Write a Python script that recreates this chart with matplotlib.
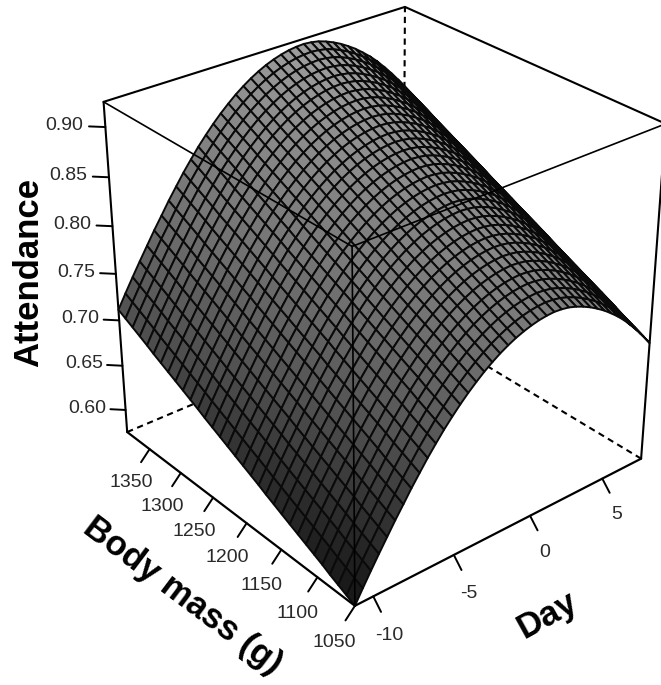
import numpy as np
import matplotlib
matplotlib.use("Agg")
import matplotlib.pyplot as plt
from matplotlib.collections import PolyCollection

plt.rcParams['font.family'] = ['Liberation Sans', 'DejaVu Sans']

# surface grid
day_grid = [-11.1, -10.62, -10.13, -9.65, -9.16, -8.68, -8.19, -7.71, -7.22, -6.74,
            -6.25, -5.77, -5.28, -4.80, -4.32, -3.83, -3.35, -2.86, -2.38, -1.89,
            -1.41, -0.92, -0.44, 0.05, 0.53, 1.02, 1.50, 1.98, 2.47, 2.95,
            3.44, 3.92, 4.41, 4.89, 5.38, 5.86, 6.35, 6.83, 7.32, 7.80]
mass_grid = [1050, 1061, 1072, 1083, 1093, 1104, 1115, 1126, 1137, 1148, 1159,
             1170, 1180, 1191, 1202, 1213, 1224, 1235, 1246, 1257, 1267,
             1278, 1289, 1300, 1311, 1322, 1333, 1343, 1354, 1365, 1376, 1387]
# attendance along the day edge at the lowest mass
attendance_by_day = [0.5746, 0.5891, 0.6034, 0.6170, 0.6305, 0.6437, 0.6563, 0.6689, 0.6808, 0.6923,
                     0.7031, 0.7133, 0.7227, 0.7314, 0.7394, 0.7468, 0.7535, 0.7595, 0.7648, 0.7694,
                     0.7733, 0.7765, 0.7790, 0.7809, 0.7820, 0.7825, 0.7818, 0.7804, 0.7778, 0.7745,
                     0.7705, 0.7658, 0.7605, 0.7544, 0.7477, 0.7403, 0.7317, 0.7228, 0.7131, 0.7027]
# rise in attendance going up the mass edge
attendance_gain = [0.0, 0.0044, 0.0088, 0.0132, 0.0177, 0.0221, 0.0265, 0.0309, 0.0353, 0.0397, 0.0442,
                   0.0486, 0.0530, 0.0574, 0.0618, 0.0662, 0.0707, 0.0751, 0.0795, 0.0839, 0.0883,
                   0.0927, 0.0972, 0.1016, 0.1060, 0.1104, 0.1148, 0.1192, 0.1237, 0.1281, 0.1325, 0.1369]

mass_ticks = [1050, 1100, 1150, 1200, 1250, 1300, 1350]
day_ticks = [-10, -5, 0, 5]
att_ticks = [0.60, 0.65, 0.70, 0.75, 0.80, 0.85, 0.90]
att_labels = ['0.60', '0.65', '0.70', '0.75', '0.80', '0.85', '0.90']

mass_lim = (1050, 1387)
day_lim = (-11.1, 7.8)
att_lim = (0.5746, 0.9246)

# view, same idea as persp()
theta = np.radians(50.3)
phi = np.radians(29.5)
dist = 11.0
focal = 2097.0
cx, cy = 381.6, 286.4


def to_cube(val, lim):
    return -1 + 2 * (np.asarray(val, dtype=float) - lim[0]) / (lim[1] - lim[0])


def project(u, v, w):
    ground_x = v * np.sin(theta) - u * np.cos(theta)
    ground_y = v * np.cos(theta) + u * np.sin(theta)
    up = ground_y * np.sin(phi) + w * np.cos(phi)
    depth = -ground_y * np.cos(phi) + w * np.sin(phi)
    s = focal / (dist - depth)
    return cx + ground_x * s, cy - up * s, depth


def edge(ax, a, b, **kw):
    xa, ya, _ = project(*a)
    xb, yb, _ = project(*b)
    ax.plot([xa, xb], [ya, yb], color='black', solid_capstyle='round', **kw)


fig = plt.figure(figsize=(6.61, 6.85), dpi=100)
ax = fig.add_axes([0, 0, 1, 1])
ax.set_xlim(0, 661)
ax.set_ylim(685, 0)
ax.axis('off')

# back of the box
dash = (0, (3, 2.2))
edge(ax, (1, 1, -1), (1, 1, 1), lw=1.5, ls=dash, zorder=1)
edge(ax, (1, -1, -1), (1, 1, -1), lw=1.5, ls=dash, zorder=1)
edge(ax, (-1, 1, -1), (1, 1, -1), lw=1.5, ls=dash, zorder=1)
edge(ax, (1, -1, 1), (1, 1, 1), lw=1.5, zorder=1)
edge(ax, (-1, 1, 1), (1, 1, 1), lw=1.5, zorder=1)
edge(ax, (1, -1, -1), (1, -1, 1), lw=1.5, zorder=1)
edge(ax, (-1, 1, -1), (-1, 1, 1), lw=1.5, zorder=1)

# surface
att = np.add.outer(attendance_gain, attendance_by_day)
uu, vv = np.meshgrid(to_cube(mass_grid, mass_lim), to_cube(day_grid, day_lim), indexing='ij')
px, py, pz = project(uu, vv, to_cube(att, att_lim))

polys = []
means = []
depths = []
days = []
for i in range(len(mass_grid) - 1):
    for j in range(len(day_grid) - 1):
        polys.append([(px[i, j], py[i, j]), (px[i + 1, j], py[i + 1, j]),
                      (px[i + 1, j + 1], py[i + 1, j + 1]), (px[i, j + 1], py[i, j + 1])])
        means.append(att[i:i + 2, j:j + 2].mean())
        depths.append(pz[i:i + 2, j:j + 2].mean())
        days.append(day_grid[j])
order = np.argsort(depths)
grey = np.interp(means, [0.5746, 0.60, 0.65, 0.70, 0.80, 0.92],
                 [0.10, 0.14, 0.24, 0.36, 0.50, 0.60])
grey = grey * np.interp(days, [-11.1, -5, 2, 8], [0.85, 0.95, 1.05, 1.25])
colors = [(g, g, g) for g in grey[order]]
surf = PolyCollection([polys[k] for k in order], facecolors=colors, edgecolors='#0a0a0a',
                      linewidths=1.4, zorder=2)
ax.add_collection(surf)

# front of the box, drawn over the surface
edge(ax, (-1, -1, -1), (-1, -1, 1), lw=1.2, zorder=3)
edge(ax, (1, -1, 1), (-1, -1, 1), lw=1.2, zorder=3)
edge(ax, (-1, 1, 1), (-1, -1, 1), lw=1.2, zorder=3)
edge(ax, (-1, -1, -1), (1, -1, -1), lw=1.6, zorder=3)
edge(ax, (-1, -1, -1), (-1, 1, -1), lw=1.6, zorder=3)

# ticks
tick = 0.06
tick_color = '#2a2a2a'
for m in mass_ticks:
    u = to_cube(m, mass_lim)
    edge(ax, (u, -1, -1), (u, -1 - tick, -1 - tick), lw=1.4, zorder=3)
    x, y, _ = project(u, -1 - 0.132, -1 - 0.16)
    ax.text(x, y, str(m), fontsize=14, color=tick_color, ha='center', va='center')
for d in day_ticks:
    v = to_cube(d, day_lim)
    edge(ax, (-1, v, -1), (-1 - tick, v, -1 - tick), lw=1.4, zorder=3)
    x, y, _ = project(-1 - 0.12, v, -1 - 0.17)
    ax.text(x, y, str(d), fontsize=14, color=tick_color, ha='center', va='center')
for a, lab in zip(att_ticks, att_labels):
    w = to_cube(a, att_lim)
    edge(ax, (1, -1, w), (1 + tick, -1 - tick, w), lw=1.4, zorder=3)
    x, y, _ = project(1 + 0.15, -1 - 0.15, w)
    ax.text(x, y, lab, fontsize=14, color=tick_color, ha='center', va='center')

# axis titles
ax.text(29, 272, 'Attendance', fontsize=25, fontweight='bold', rotation=90, ha='center', va='center')
ax.text(183, 596, 'Body mass (g)', fontsize=25, fontweight='bold', rotation=-37,
        ha='center', va='center', rotation_mode='anchor')
ax.text(548, 615, 'Day', fontsize=25, fontweight='bold', rotation=29,
        ha='center', va='center', rotation_mode='anchor')

fig.savefig('out.png', dpi=100)
